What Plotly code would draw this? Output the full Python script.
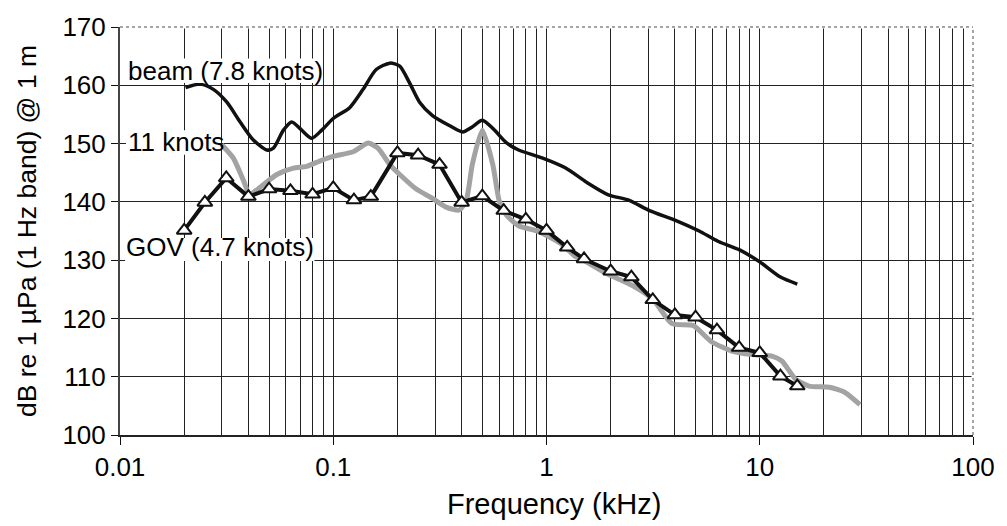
import math
import plotly.graph_objects as go

# ---- data ----
beam_f = [0.0203, 0.0238, 0.0274, 0.0317, 0.0366, 0.0422, 0.0488, 0.0524, 0.0584, 0.0639,
          0.0711, 0.0792, 0.0883, 0.1, 0.1197, 0.138, 0.159, 0.184, 0.205, 0.228, 0.254,
          0.292, 0.35, 0.404, 0.45, 0.50, 0.56, 0.65, 0.74, 0.96, 1.23, 1.55, 1.95, 2.43,
          3.04, 4.05, 5.2, 6.4, 8.0, 10.0, 12.5, 15.0]
beam_db = [159.6, 160.2, 159.3, 157.1, 153.7, 150.6, 148.9, 149.2, 152.3, 153.7,
           152.3, 150.9, 152.3, 154.3, 156.2, 159.3, 162.7, 163.8, 163.3, 160.4, 157.1,
           154.8, 153.1, 152.0, 152.9, 154.0, 152.6, 150.1, 148.9, 147.5, 145.8, 143.3, 141.2, 140.3,
           138.5, 136.8, 135.0, 133.2, 131.8, 129.7, 127.1, 125.9]

k11_f = [0.030, 0.034, 0.038, 0.0405, 0.0454, 0.0544, 0.065, 0.075, 0.0864, 0.1, 0.124,
         0.146, 0.162, 0.184, 0.205, 0.245, 0.292, 0.338, 0.39, 0.42, 0.45, 0.50, 0.56,
         0.60, 0.65, 0.74, 0.92, 1.16, 1.37, 1.47, 1.89, 2.54, 3.15, 3.88, 4.86, 5.94,
         7.4, 9.2, 11.5, 12.7, 14.7, 17.0, 21.2, 25.1, 29.5]
k11_db = [149.8, 147.5, 143.6, 141.3, 142.5, 144.7, 145.8, 146.1, 147.0, 147.8, 148.6,
          150.1, 149.2, 146.4, 144.7, 142.2, 140.6, 139.1, 138.6, 140.2, 146.6, 152.3, 146.4,
          140.2, 137.7, 135.9, 134.9, 132.9, 130.6, 130.1, 127.8, 125.6, 123.3, 119.1, 118.8, 116.0,
          114.4, 113.8, 113.5, 112.7, 109.6, 108.4, 108.2, 107.3, 105.2]

gov_f = [0.02, 0.025, 0.0315, 0.04, 0.05, 0.063, 0.08, 0.1, 0.125, 0.15, 0.2, 0.25, 0.315,
         0.4, 0.5, 0.63, 0.8, 1.0, 1.25, 1.5, 2.0, 2.5, 3.15, 4.0, 5.0, 6.3, 8.0, 10.0, 12.5, 15.0]
gov_db = [135.1, 139.9, 144.1, 140.9, 142.2, 141.9, 141.3, 142.4, 140.3, 140.9, 148.4, 148.0,
          146.4, 139.9, 141.0, 138.5, 137.0, 135.1, 132.2, 130.2, 128.1, 127.1, 123.2, 120.6,
          120.2, 118.0, 115.0, 114.1, 110.1, 108.4]

x_tick_vals = [0.01, 0.1, 1, 10, 100]
x_tick_text = ["0.01", "0.1", "1", "10", "100"]
x_minor_vals = [m * d for d in [0.01, 0.1, 1, 10] for m in range(2, 10)]
y_tick_vals = [100, 110, 120, 130, 140, 150, 160, 170]

labels = [("beam (7.8 knots)", 0.0108, 162.5),
          ("11 knots", 0.0108, 150.3),
          ("GOV (4.7 knots)", 0.0106, 132.3)]
# white boxes (paper coords) behind the labels, hiding the gridlines
label_boxes = [(0.007, 0.238, 0.863, 0.923),
               (0.007, 0.116, 0.687, 0.747),
               (0.006, 0.228, 0.4265, 0.483)]

FONT = "Liberation Sans, Arial, sans-serif"

fig = go.Figure()
fig.add_trace(go.Scatter(x=k11_f, y=k11_db, mode="lines", name="11 knots",
                         line=dict(color="#a3a3a3", width=5, shape="spline", smoothing=0.6)))
fig.add_trace(go.Scatter(x=beam_f, y=beam_db, mode="lines", name="beam (7.8 knots)",
                         line=dict(color="#111111", width=3.5, shape="spline", smoothing=0.7)))
fig.add_trace(go.Scatter(x=gov_f, y=gov_db, mode="lines+markers", name="GOV (4.7 knots)",
                         line=dict(color="#111111", width=4),
                         marker=dict(symbol="triangle-up", size=13, color="white",
                                     line=dict(color="#111111", width=2))))

for (x0, x1, y0, y1) in label_boxes:
    fig.add_shape(type="rect", xref="paper", yref="paper", x0=x0, x1=x1, y0=y0, y1=y1,
                  fillcolor="white", line=dict(width=0), layer="above")

for txt, xv, yv in labels:
    # annotation x on a log axis is given in log10 units
    fig.add_annotation(x=math.log10(xv), y=yv, xref="x", yref="y", text=txt, showarrow=False,
                       xanchor="left", yanchor="middle",
                       font=dict(family=FONT, size=26, color="black"), borderpad=0)

# x axis title as a centred annotation
fig.add_annotation(x=0.509, y=-0.168, xref="paper", yref="paper", text="Frequency (kHz)",
                   showarrow=False, xanchor="center", yanchor="middle",
                   font=dict(family=FONT, size=29, color="black"))

# top and right borders: dotted grey
fig.add_shape(type="line", xref="paper", yref="paper", x0=0, x1=1, y0=1, y1=1,
              line=dict(color="white", width=3), layer="above")
fig.add_shape(type="line", xref="paper", yref="paper", x0=1, x1=1, y0=0, y1=1,
              line=dict(color="white", width=3), layer="above")
fig.add_shape(type="line", xref="paper", yref="paper", x0=0, x1=1, y0=1, y1=1,
              line=dict(color="#888888", width=1.5, dash="dot"), layer="above")
fig.add_shape(type="line", xref="paper", yref="paper", x0=1, x1=1, y0=0, y1=1,
              line=dict(color="#888888", width=1.5, dash="dot"), layer="above")

fig.update_layout(
    width=1007, height=526,
    margin=dict(l=120, r=32, t=20, b=91),
    paper_bgcolor="white", plot_bgcolor="white",
    showlegend=False,
    font=dict(family=FONT, size=26, color="black"),
    xaxis=dict(type="log", range=[-2, 2], tickmode="array", tickvals=x_tick_vals,
               ticktext=x_tick_text, ticks="outside", ticklen=8, tickcolor="#111",
               showline=True, linecolor="#222", linewidth=2,
               showgrid=True, gridcolor="#222", gridwidth=1,
               minor=dict(tickmode="array", tickvals=x_minor_vals, showgrid=True,
                          gridcolor="#222", gridwidth=1, ticks=""),
               zeroline=False,
               tickfont=dict(size=26)),
    yaxis=dict(range=[100, 170], tickmode="array", tickvals=y_tick_vals,
               ticks="outside", ticklen=7, tickcolor="#111",
               showline=True, linecolor="#444", linewidth=2,
               showgrid=True, gridcolor="#222", gridwidth=1, zeroline=False,
               title=dict(text="dB re 1 µPa (1 Hz band) @ 1 m", font=dict(size=26.5), standoff=18),
               tickfont=dict(size=26)),
)

fig.write_html("out.html")
